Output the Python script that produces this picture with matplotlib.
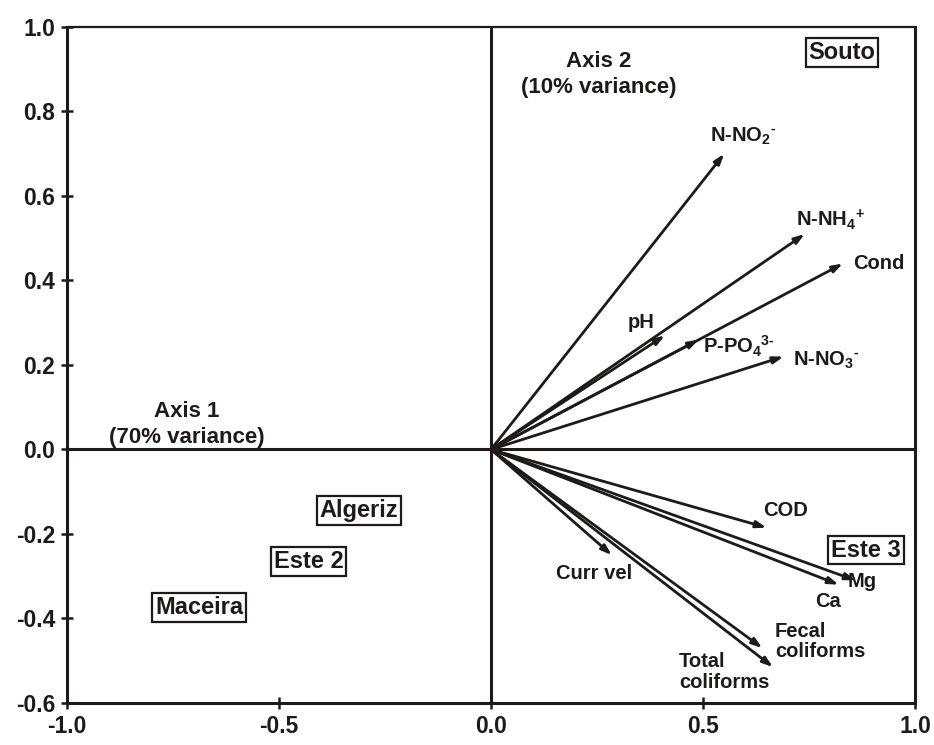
import matplotlib
matplotlib.use("Agg")
import matplotlib.pyplot as plt

plt.rcParams["font.family"] = ["Liberation Sans", "DejaVu Sans"]
plt.rcParams["font.weight"] = "bold"
plt.rcParams["mathtext.fontset"] = "custom"
plt.rcParams["mathtext.rm"] = "Liberation Sans:bold"
plt.rcParams["mathtext.it"] = "Liberation Sans:bold"
plt.rcParams["mathtext.bf"] = "Liberation Sans:bold"

INK = "#1e1a1a"

# variable loadings on axis 1 / axis 2
var_names = ["N-NO2", "N-NH4", "Cond", "pH", "P-PO4", "N-NO3",
             "COD", "Mg", "Ca", "Curr vel", "Fecal coliforms", "Total coliforms"]
var_x = [0.55, 0.74, 0.83, 0.41, 0.49, 0.69, 0.65, 0.86, 0.82, 0.285, 0.64, 0.665]
var_y = [0.70, 0.51, 0.44, 0.27, 0.26, 0.22, -0.185, -0.31, -0.32, -0.25, -0.47, -0.515]

# site scores
site_names = ["Souto", "Algeriz", "Este 2", "Maceira", "Este 3"]
site_x = [0.828, -0.312, -0.430, -0.688, 0.884]
site_y = [0.939, -0.145, -0.265, -0.374, -0.238]

x_ticks = [-1.0, -0.5, 0.0, 0.5, 1.0]
y_ticks = [1.0, 0.8, 0.6, 0.4, 0.2, 0.0, -0.2, -0.4, -0.6]

# how each variable label is written and where it sits (left edge, centre)
var_text = {
    "N-NO2": (r"N-NO$_2$$^{\text{-}}$", 0.517, 0.742),
    "N-NH4": (r"N-NH$_4$$^{\text{+}}$", 0.720, 0.545),
    "Cond": ("Cond", 0.854, 0.440),
    "pH": ("pH", 0.323, 0.300),
    "P-PO4": (r"P-PO$_4$$^{\text{3-}}$", 0.500, 0.245),
    "N-NO3": (r"N-NO$_3$$^{\text{-}}$", 0.712, 0.210),
    "COD": ("COD", 0.642, -0.144),
    "Mg": ("Mg", 0.842, -0.312),
    "Ca": ("Ca", 0.764, -0.360),
    "Curr vel": ("Curr vel", 0.153, -0.294),
    "Fecal coliforms": ("Fecal\ncoliforms", 0.670, -0.454),
    "Total coliforms": ("Total\ncoliforms", 0.443, -0.527),
}

fig = plt.figure(figsize=(9.34, 7.45), dpi=100)
ax = fig.add_axes([0.0717, 0.0564, 0.9080, 0.9074])

ax.set_xlim(-1, 1)
ax.set_ylim(-0.6, 1.0)

# quadrant lines through the origin
ax.plot([-1, 1], [0, 0], color=INK, lw=2.2, zorder=2)
ax.plot([0, 0], [-0.6, 1.0], color=INK, lw=2.2, zorder=2)

for name, vx, vy in zip(var_names, var_x, var_y):
    ax.annotate("", xy=(vx, vy), xytext=(0, 0),
                arrowprops=dict(arrowstyle="-|>,head_length=0.6,head_width=0.2",
                                color=INK, lw=2.0, shrinkA=0, shrinkB=0),
                zorder=3)
    label, tx, ty = var_text[name]
    ax.text(tx, ty, label, fontsize=14.5, fontweight="bold", color=INK,
            ha="left", va="center", linespacing=1.1, zorder=4)

for name, sx, sy in zip(site_names, site_x, site_y):
    ax.text(sx, sy, name, fontsize=17, fontweight="bold", color=INK,
            ha="center", va="center", zorder=4,
            bbox=dict(boxstyle="square,pad=0.12", fc="white", ec=INK, lw=1.6))

ax.text(-0.718, 0.004, "Axis 1\n(70% variance)", fontsize=16, fontweight="bold",
        color=INK, ha="center", va="bottom", linespacing=1.3, zorder=4)
ax.text(0.255, 0.888, "Axis 2\n(10% variance)", fontsize=16, fontweight="bold",
        color=INK, ha="center", va="center", linespacing=1.3, zorder=4)

ax.set_xticks(x_ticks)
ax.set_yticks(y_ticks)
ax.set_xticklabels([f"{v:.1f}" for v in x_ticks])
ax.set_yticklabels([f"{v:.1f}" for v in y_ticks])
ax.tick_params(direction="inout", length=9, width=1.8, color=INK,
               labelsize=16.5, labelcolor=INK, pad=4)
for lbl in ax.get_xticklabels() + ax.get_yticklabels():
    lbl.set_fontweight("bold")

for side in ["left", "bottom", "right", "top"]:
    ax.spines[side].set_linewidth(2.2)
    ax.spines[side].set_color(INK)
ax.spines["top"].set_linewidth(1.6)

fig.savefig("out.png", dpi=100, facecolor="white")
